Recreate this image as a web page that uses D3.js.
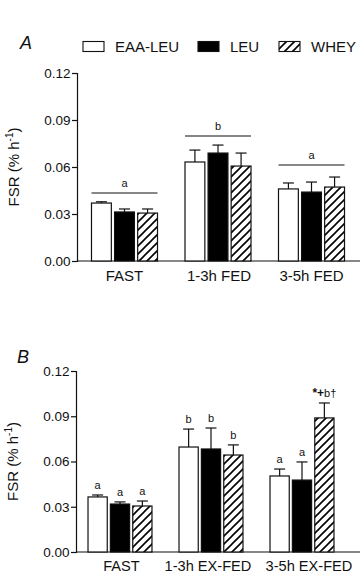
<!DOCTYPE html>
<html>
<head>
<meta charset="utf-8">
<script src="https://cdn.jsdelivr.net/npm/d3@7"></script>
<style>
  html, body { margin: 0; padding: 0; background: #fff; }
  svg { display: block; font-family: "Liberation Sans", Arial, Helvetica, sans-serif; }
</style>
</head>
<body>
<svg id="chart" width="360" height="575"></svg>
<script>
// ---------------- DATA ----------------
const series = ["EAA-LEU", "LEU", "WHEY"];
const categoriesA = ["FAST", "1-3h FED", "3-5h FED"];
const categoriesB = ["FAST", "1-3h EX-FED", "3-5h EX-FED"];
const yTicks = [0.00, 0.03, 0.06, 0.09, 0.12];

// Panel A means and upper error (SD) per series, by category
const meanA_EAA  = [0.0370, 0.0632, 0.0460];
const meanA_LEU  = [0.0313, 0.0689, 0.0440];
const meanA_WHEY = [0.0306, 0.0606, 0.0472];
const errA_EAA   = [0.0008, 0.0076, 0.0038];
const errA_LEU   = [0.0019, 0.0051, 0.0064];
const errA_WHEY  = [0.0026, 0.0083, 0.0064];
// Panel A group significance bars (letter + height in data units)
const sigA_text  = ["a", "b", "a"];
const sigA_level = [0.0434, 0.0798, 0.0613];

// Panel B
const meanB_EAA  = [0.0365, 0.0696, 0.0504];
const meanB_LEU  = [0.0318, 0.0683, 0.0477];
const meanB_WHEY = [0.0305, 0.0643, 0.0889];
const errB_EAA   = [0.0013, 0.0119, 0.0046];
const errB_LEU   = [0.0014, 0.0139, 0.0120];
const errB_WHEY  = [0.0033, 0.0067, 0.0099];
const lettersB_EAA  = ["a", "b", "a"];
const lettersB_LEU  = ["a", "b", "a"];
const lettersB_WHEY = ["a", "b", "*+b\u2020"];

// ---------------- BUILD ----------------
const svg = d3.select("#chart");
const defs = svg.append("defs");
const pat = defs.append("pattern")
  .attr("id", "hatch")
  .attr("patternUnits", "userSpaceOnUse")
  .attr("width", 8).attr("height", 8);
pat.append("rect").attr("width", 8).attr("height", 8).attr("fill", "#fff");
pat.append("path")
  .attr("d", "M-2,2 L2,-2 M0,8 L8,0 M6,10 L10,6")
  .attr("stroke", "#000").attr("stroke-width", 1.6);

const fillFor = { "EAA-LEU": "#fff", "LEU": "#000", "WHEY": "url(#hatch)" };

function rows(cats, means, errs, labels) {
  const out = [];
  cats.forEach((c, i) => {
    series.forEach((s, j) => {
      out.push({ cat: c, ser: s, mean: means[j][i], err: errs[j][i], label: labels ? labels[j][i] : null });
    });
  });
  return out;
}

function panel(cfg) {
  const g = svg.append("g");
  const y = d3.scaleLinear().domain([0, 0.12]).range([cfg.y0, cfg.y1]);
  const x = d3.scaleBand().domain(cfg.cats).range(cfg.xr)
    .paddingInner(cfg.pin).paddingOuter(cfg.pout);
  const xs = d3.scaleBand().domain(series).range([0, x.bandwidth()]).paddingInner(0.14);

  // y axis
  const ya = g.append("g").attr("transform", `translate(${cfg.ax},0)`)
    .call(d3.axisLeft(y).tickValues(yTicks).tickFormat(d3.format(".2f")).tickSize(5).tickSizeOuter(5));
  ya.selectAll("path, line").attr("stroke", "#111").attr("stroke-width", 1.2);
  ya.selectAll("text").attr("font-size", 13.5).attr("fill", "#111").attr("x", -6.5)
    .attr("font-family", "'Liberation Sans', Arial, sans-serif");

  // x axis with labels
  const xa = g.append("g").attr("transform", `translate(0,${cfg.y0})`)
    .call(d3.axisBottom(x).tickSize(0));
  xa.select(".domain").remove();
  xa.selectAll("text").attr("font-size", cfg.labSize).attr("fill", "#111").attr("dy", 0).attr("y", cfg.labOff)
    .attr("dx", (d, i) => cfg.labDx[i])
    .attr("font-family", "'Liberation Sans', Arial, sans-serif");
  g.append("line").attr("x1", cfg.ax).attr("x2", 360).attr("y1", cfg.y0).attr("y2", cfg.y0)
    .attr("stroke", "#111").attr("stroke-width", 1.2);

  // y label
  const yl = g.append("text")
    .attr("transform", `translate(${cfg.ylx},${(cfg.y0 + cfg.y1) / 2}) rotate(-90)`)
    .attr("text-anchor", "middle").attr("font-size", 15).attr("fill", "#111");
  yl.append("tspan").text("FSR (% h");
  yl.append("tspan").attr("font-size", 10).attr("dy", -6).text("-1");
  yl.append("tspan").attr("dy", 6).text(")");

  // bars
  const bx = d => x(d.cat) + xs(d.ser);
  const bars = g.append("g");
  // error bars (upper only)
  bars.selectAll(".eb").data(cfg.data).join("line")
    .attr("x1", d => bx(d) + xs.bandwidth() / 2).attr("x2", d => bx(d) + xs.bandwidth() / 2)
    .attr("y1", d => y(d.mean)).attr("y2", d => y(d.mean + d.err))
    .attr("stroke", "#111").attr("stroke-width", 1.2);
  bars.selectAll(".cap").data(cfg.data).join("line")
    .attr("x1", d => bx(d) + xs.bandwidth() / 2 - 5.5).attr("x2", d => bx(d) + xs.bandwidth() / 2 + 5.5)
    .attr("y1", d => y(d.mean + d.err)).attr("y2", d => y(d.mean + d.err))
    .attr("stroke", "#111").attr("stroke-width", 1.2);
  bars.selectAll("rect").data(cfg.data).join("rect")
    .attr("x", d => bx(d)).attr("width", xs.bandwidth())
    .attr("y", d => y(d.mean)).attr("height", d => y(0) - y(d.mean))
    .attr("fill", d => fillFor[d.ser]).attr("stroke", "#111").attr("stroke-width", 1.2);

  // per-bar labels
  if (cfg.perBar) {
    const t = g.selectAll(".lb").data(cfg.data).join("text")
      .attr("x", d => bx(d) + xs.bandwidth() / 2)
      .attr("y", d => y(d.mean + d.err) - 6)
      .attr("text-anchor", "middle").attr("font-size", 11).attr("fill", "#111");
    t.each(function (d) {
      const el = d3.select(this);
      if (d.label.length > 1) {
        el.append("tspan").attr("font-weight", "bold").attr("font-size", 12).text(d.label.slice(0, 2));
        el.append("tspan").text(d.label.slice(2));
      } else {
        el.text(d.label);
      }
    });
  }
  // group significance lines
  if (cfg.sig) {
    const sg = g.append("g");
    cfg.cats.forEach((c, i) => {
      sg.append("line").attr("x1", x(c)).attr("x2", x(c) + x.bandwidth())
        .attr("y1", y(cfg.sig.level[i])).attr("y2", y(cfg.sig.level[i]))
        .attr("stroke", "#111").attr("stroke-width", 1.1);
      sg.append("text").attr("x", x(c) + x.bandwidth() / 2).attr("y", y(cfg.sig.level[i]) - 6)
        .attr("text-anchor", "middle").attr("font-size", 11).attr("fill", "#111").text(cfg.sig.text[i]);
    });
  }
  // panel letter
  g.append("text").attr("x", cfg.letter[1]).attr("y", cfg.letter[2])
    .attr("font-size", 18).attr("font-style", "italic").attr("fill", "#111").text(cfg.letter[0]);
}

panel({
  cats: categoriesA, y0: 261, y1: 73, ax: 77, xr: [77, 359], pin: 0.294, pout: 0.155,
  labOff: 20, labSize: 15, labDx: [0, 1, 0], ylx: 19,
  data: rows(categoriesA, [meanA_EAA, meanA_LEU, meanA_WHEY], [errA_EAA, errA_LEU, errA_WHEY]),
  sig: { text: sigA_text, level: sigA_level },
  letter: ["A", 20, 49]
});

panel({
  cats: categoriesB, y0: 552, y1: 371, ax: 76, xr: [76, 346], pin: 0.297, pout: 0.132,
  labOff: 18.5, labSize: 14.6, labDx: [1.5, -3, 7], ylx: 18,
  data: rows(categoriesB, [meanB_EAA, meanB_LEU, meanB_WHEY], [errB_EAA, errB_LEU, errB_WHEY],
             [lettersB_EAA, lettersB_LEU, lettersB_WHEY]),
  perBar: true,
  letter: ["B", 17, 363]
});

// legend
const legX = [83, 198, 279];
const leg = svg.append("g");
series.forEach((s, i) => {
  leg.append("rect").attr("x", legX[i]).attr("y", 41.5).attr("width", 21).attr("height", 10)
    .attr("fill", fillFor[s]).attr("stroke", "#111").attr("stroke-width", 1.1);
  leg.append("text").attr("x", legX[i] + 32).attr("y", 52).attr("font-size", 15).attr("fill", "#111").text(s);
});
</script>
</body>
</html>
